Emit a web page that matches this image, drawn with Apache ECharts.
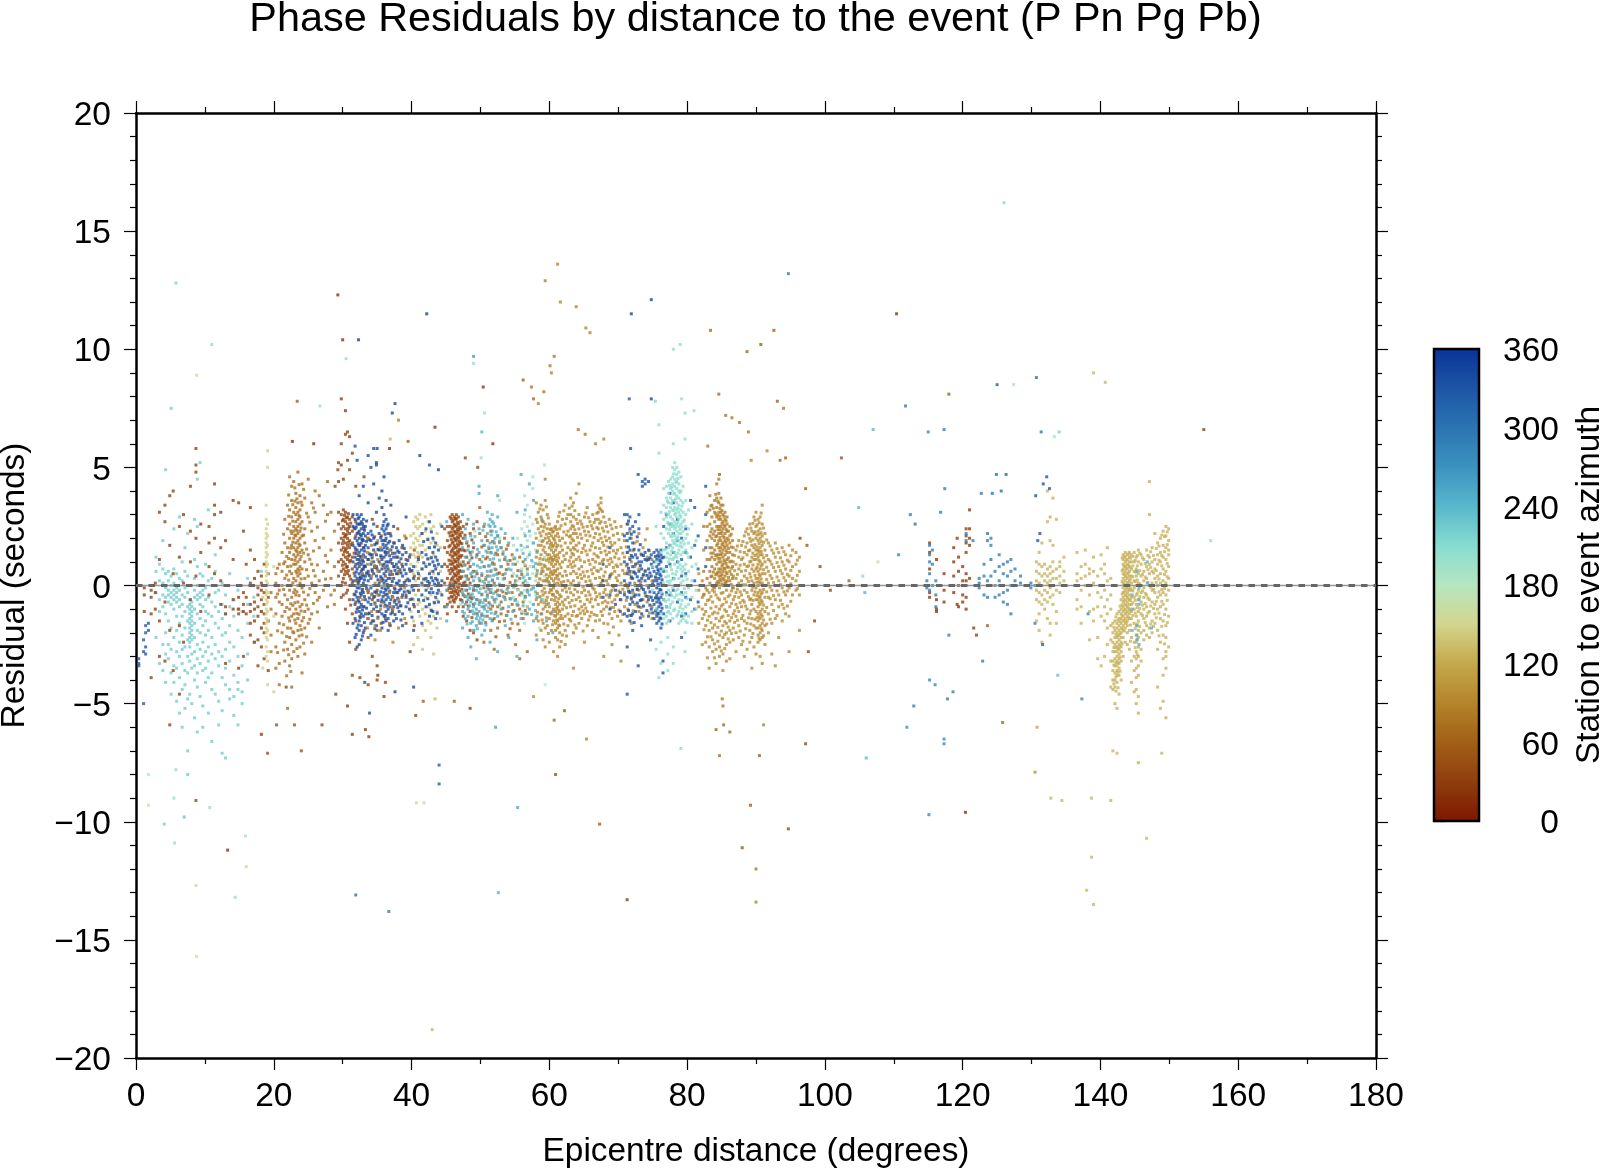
<!DOCTYPE html>
<html><head><meta charset="utf-8">
<style>html,body{margin:0;padding:0;background:#fff}#c{width:1600px;height:1168px}</style>
<script src="https://cdn.jsdelivr.net/npm/echarts@6/dist/echarts.min.js"></script>
</head><body><div id="c"></div>
<script>
const xTicks=[0,180,20], yTicks=[-20,20,5], azTicks=[0,360,60];
// every row: [distance, residual, residual, ...]
const outliers=[ // [dist,res,az]
[126,16.2,210],[5.8,12.8,215],[11,10.2,205],[8.8,8.9,170],[94.7,13.2,290],[61.2,13.6,90],[59.4,12.9,90],[61.6,12,90],[63.9,11.8,90],[65.3,10.9,90],[65.9,10.7,90],[29.3,12.3,20],[42.2,11.5,340],[71.9,11.5,340],[74.8,12.1,340],[110.4,11.5,25],[83.4,10.8,70],[92.6,10.8,60],[90.7,10.2,60],[88.7,9.9,70],[30,10.4,20],[32.3,10.4,340],[30.5,9.6,200],[49,9.7,260],[49,9.4,200],[60.7,9.7,80],[60.1,9.3,80],[78,10,200],[79,10.2,200],[139,9,130],[140.7,8.6,130],[125,8.5,320],[127.4,8.5,190],[130.7,8.8,300],[118,8.1,60],[155,6.6,30],[107,6.6,240],[102.4,5.4,50],[111.7,7.6,290],[115,6.5,280],[117.3,6.6,290],[131.4,6.5,290],[134,6.5,220],[133.3,6.3,190],[156,1.9,200],[8.8,-15.7,170],[43,-18.8,130],[31.9,-13.1,300],[36.7,-13.8,290],[52.6,-13,240],[71.3,-13.3,30],[90,-13.4,90],[14.4,-13.2,200],[16,-11.9,160],[15.9,-10.6,190],[13.3,-11.2,20],[8.7,-12.7,170],[5.6,-10.9,200],[4.1,-10.1,220],[7,-9.8,230],[1.8,-9.3,170],[1.8,-8,180],[8.7,-9.1,40],[10.7,-9.4,200],[5.8,-7.8,200],[7.5,-8,220],[5.5,-9,200],[44,-7.6,320],[44,-8.4,320],[40.7,-9.2,160],[41.8,-9.2,160],[55.4,-9.4,250],[60.9,-8,50],[67.3,-10.1,60],[88,-11.1,50],[90,-12,80],[89.2,-9.3,60],[94.7,-10.3,40],[90.5,-7.2,60],[84.7,-7.2,80],[97.2,-6.7,40],[106,-7.3,240],[111.9,-6,270],[117.3,-6.5,280],[117.3,-6.7,280],[115.1,-9.7,280],[120.4,-9.6,20],[130.5,-7.9,100],[132.8,-9,130],[134.4,-9.1,130],[138.7,-9,130],[141.5,-9.1,130],[138.7,-11.5,130],[138,-12.9,130],[139,-13.5,130],[146.7,-10.7,130],[148.9,-7.1,130],[141.8,-7,130],[142.4,-7.1,130],[130.8,-6,120],[125.8,-5.8,70],[137.3,-4.8,280],
[104.9,3.3,240],[105.5,0.4,210],[105.8,-0.3,240],[107.7,1,170],[110.7,1.3,280],[112.4,3,290],[113.1,2.6,300],[103.5,0.2,60],[100.8,-0.2,40],[99.3,0.8,40],[98.5,-1.5,40],[97.6,-2.8,40],[97.4,1.7,50],[96.4,2,40],[112.9,-5.1,290],[115.2,-4,280],[116,-4.2,280],[117.8,-4.8,290],[118.6,-4.5,290],[122.9,-3.2,290],[121.6,-1.8,30],[122,-2.1,30],[123.6,-1.7,60],[124.9,4.7,300],[126.3,4.7,310],[124.3,3.9,300],[125.6,4,300],[122.7,3.9,290],[117.4,4.1,290],[116.8,3.1,290],[131.7,4.3,330],[132.2,4.6,330],[132.6,4.1,330],[130.6,3.8,330],[131.2,2.2,330],[130.9,1.9,330],[131.6,-2.5,320],[133.8,-3.8,230],[138.2,-1.2,280],[41.2,5.5,340],[43.9,4.9,340],[42.6,5.1,330],[43.4,-4.8,130],[41.7,-4.9,60],[43.4,6.7,20],[47.8,5.4,40],[49.6,5,40],[50.4,8.4,20],[51.8,6,20],[56.2,8.7,60],[57.4,8.4,80],[57.7,7.9,70],[59.2,8.2,80],[60.3,9,90],[58.4,7.7,90],[65.2,6.4,80],[64.2,6.6,80],[66.7,6,90],[67.9,6.2,90],[71.6,7.9,320],[74.8,7.9,340],[71.8,5.8,330],[75.4,7.8,210],[79.2,7.9,200],[81,7.4,200],[83,5.9,80],[84.6,8.1,70],[85.6,7.2,80],[86.5,7.1,80],[87.6,6.9,80],[88.9,6.5,80],[91.6,5.7,90],[93.1,7.8,60],[94,7.5,80],[93.5,5.3,70],[94.3,5.4,60],[89.3,5.3,90],[84.7,4.7,70],[97.2,4.1,60],[50.2,6.5,240],[50.6,7.3,200],[50.1,5.4,200],[25.8,6,20],[22.7,6.1,20],[23.4,7.8,60],[29.8,7.9,30],[30.4,7.4,30],[26.7,7.6,200],[37.6,7.7,340],[37.2,7.3,340],[35,5.8,340],[34.9,5.2,340],[36.8,5.8,20],[39.5,6.1,60],[36.9,6.2,130],[29.3,4.9,40],[28.9,4.2,40],[24,-7,50],[19.1,-7.1,50],[20.4,-5.9,50],[18.2,-6.3,30],[23,-5.9,50],[27,-5.9,40],[29,-4.6,30],[21.8,-4.3,40],[30.7,-5.1,30],[31.4,-6.3,30],[33.3,-6.1,30],[33.8,-6.4,30],[36,-4.7,30],[33.9,-5.4,330],[33.2,-4.1,330],[35.1,-3.8,30],[37.6,-4.5,340],[40.3,-4.3,340],[40.6,-5.5,40],[48.5,-5.2,30],[46.2,-4.9,60],[52.2,-6,260],[60.7,-5.7,70],[65.4,-6.5,90],[71.3,-4.6,330],[85.1,-4.8,80],[85.2,-5.1,80],[84.2,-6.1,70],[86.2,-6.2,70],[85.3,-5.9,70],[91.1,-5.9,90],[79.1,-6.9,205],[62.2,-5.3,60],[57.7,-4.7,100],[59.4,-4.2,180]
];
const nearBlue=[[0.4,-3.1,-3.3,-3.4],[1.1,-2.3,-2.8,-5],[1.4,-1.7,-2,-2.6,-2.9],[1.8,-1.6,-1.9]];
const nearCyan=[[2.9,1.2,0.6,-0.3,-2.2],[3.4,0.9,0.2,-0.6,-1.1,-3.3],[3.9,1.9,0.7,0.1,-0.4,-0.9,-2.5,-3.6],[4.3,0.5,-0.1,-0.5,-1.2,-2,-2.9,-4.1,4.9],[4.7,0.6,0.2,-0.2,-0.4,-0.7,-1.5,-2.5,-3.1],[5.1,0.4,0,-0.3,-0.5,-0.8,-1.8,-2.7,-3.7,-4.6,7.5],[5.5,0.7,0.1,-0.2,-0.4,-0.6,-1,-2.2,-3.4,-4.1,2.4],[5.9,0.5,-0.1,-0.3,-0.5,-0.7,-1.3,-1.9,-2.8,-3.5,-4.9],[6.3,0.3,-0.2,-0.6,-0.9,-1.6,-2.4,-3,-3.9,-5.4,2.9],[6.7,1,0.2,-0.4,-0.8,-1.3,-2.1,-2.7,-3.3,-4.4,-6],[7.1,0.6,-0.1,-0.5,-1.1,-1.8,-2.6,-3.6,-4.2,-5.2,1.6],[7.5,0.4,-0.3,-0.9,-1.5,-2.3,-3,-3.7,-4.8,-7,2.2],[7.8,-0.6,-0.8,-1,-1.2,-1.4,-1.6,-1.8,-2,-2.2,-2.4,-2.6,-3.2,-4.6],[8.1,-0.7,-0.9,-1.1,-1.3,-1.5,-1.7,-1.9,-2.1,-2.3,-2.9,-3.5,-5],[8.5,1.1,0.3,-0.2,-0.5,-1,-1.6,-2.2,-2.8,-3.4,-4,-5.6,2.8],[8.9,0.8,0,-0.4,-0.6,-1.2,-1.9,-2.5,-3.1,-3.7,-4.3,-6.2,2.5,4.5],[9.3,0.5,-0.3,-0.5,-0.8,-1.4,-2,-2.7,-3.3,-4.7,5.2],[9.7,0.4,-0.2,-0.4,-0.9,-1.7,-2.4,-3,-3.6,-5.1,-6],[10.1,0.9,-0.1,-0.6,-1.1,-1.5,-2.1,-2.8,-3.5,-4.1],[10.5,0.2,-0.5,-1.2,-1.9,-2.6,-3.2,-3.9,-5.4,3.2],[11,0.3,-0.7,-1.3,-2.2,-2.9,-3.7,-4.4,-6.6],[11.5,0.6,-0.3,-0.9,-1.6,-2.5,-3.1,-4.6,1.3],[12,-0.2,-1.1,-1.8,-2.8,-3.4,-4.9,-5.9],[12.5,0.1,-0.8,-1.4,-2.1,-3,-3.9,-5.3,-7.1],[13,-0.4,-1.2,-2,-2.7,-3.5,-4.2,-7.3],[13.6,0.5,-0.9,-1.7,-2.4,-3.2,-4.4,-4.8],[14.2,-0.6,-1.3,-2.6,-3.8,-4.7,-5.5],[14.8,-0.2,-1,-1.9,-3,-4.1,-4.4,-5.9],[15.4,-1.1,-2.2,-3.4,-4.5,-5],[16.2,0.3,-0.8,-1.6,-2.9,-4],[17.1,-0.5,-1.3,-2.4],[18.2,0.6,-1.1,-1.8]];
const nearBrown=[[1.2,-0.4,-0.1,-1.1],[2.2,-0.5,-0.2,-1.2,-3.9],[2.8,0.1,-0.3,-1],[3.4,1.1,-1.5,3.1,-3],[4.2,3.4,2.7,-0.7,-3.2],[4.9,1.7,3.8,-1.9,-5.9],[5.4,4,0.5,-3.6],[6.3,2.5,1.2,-1.7,-4.6],[6.9,3,0.1,-2.4],[7.9,4.2,2.3,1,-0.6],[8.7,5.1,4.8,5.8,2,0.4],[9.4,2.6,1.4,-1.1],[10.6,2.5,1.8,0.8,-0.4],[11.4,4.3,3.4,3,2,0.5],[12.3,3.1,1.6,0.2,-0.8],[13,1.9,-0.9,-1.2,-3.3],[14.1,3.6,1.1,-0.6,-1],[14.9,3.5,-0.5,-1,-1.2,-3.5],[15.6,2.3,-0.3,-0.8,-1.1,-3],[16,0.9,-0.5,-1.2],[16.6,3.3,1.5,0.1,-0.8,-1.1,-1.6,-2.1],[17.2,1.1,0.3,-0.7,-1,-1.5,-2.4],[17.7,0.6,-0.1,-0.4,-0.9,-1.3,-2.3,-3.4],[18.2,0.4,0.1,-0.2,-0.6,-1.1,-1.8,-2.6],[18.6,0.9,-0.3,-0.8,-1.2,-1.6,-2,-3.1],[19.2,0.5,-0.5,-1.5,-3.6]];
const yellowStreak=[[18.9,3.4,2.8,2.4,2.2,2,1.8,1.6,1.4,1.2,1,0.8,0.6,0.4,0.2,0,-0.2,-0.4,-0.6,-0.8,-1,-1.2,-1.4,-1.6,-1.8,-2,-2.2,-2.6,-3],[19.1,5.7,5,2.6,2.1,1.7,1.3,0.9,0.5,0.1,-0.3,-0.7,-1.1,-1.5,-1.9,-2.3,-2.8,-3.2,-4.2],[18.4,-0.5,-3.5],[20,-1.3,-4.5,0.8]];
const brown22=[[19.6,-0.3,-1,-2.1,-2.8],[20.3,0.5,0.1,-0.5,-1.2,-2.6,-3.5],[20.8,0.9,-0.2,-0.7,-1.6,-3.3,-4.2],[21.2,1.4,0.6,0,-0.8,-1.3,-2],[21.6,2.8,1.8,1,0.3,-0.4,-1.1,-2.4,-3.2],[22,3.4,2.4,1.6,0.8,0,-0.6,-1.8,-2.7,-5.2],[22.3,4.6,3.2,2.6,2,1.4,0.6,-0.2,-1,-1.5,-2.2,-3.4],[22.6,4.2,3.6,2.9,2.2,1.7,1.1,0.5,-0.5,-1.3,-2.5,-3.1,-4.3],[22.9,4.4,3.1,2.5,2.3,2,1.6,1.3,0.9,0.3,-0.3,-1.2,-2,-2.8],[23.2,3.9,3.3,3,2.7,2.4,2.1,1.8,1.5,1.2,0.9,0.6,0.2,-0.4,-1,-1.6,-2.3],[23.5,4.8,3.5,3.1,2.8,2.5,2.2,1.9,1.6,1.3,1,0.7,0.4,0,-0.7,-1.4,-1.9,-3],[23.8,3.8,3.2,2.9,2.6,2.3,2,1.7,1.4,1.1,0.8,0.5,0.1,-0.9,-1.7,-2.6],[24.1,4.3,3.4,2.7,2.1,1.5,0.7,-0.1,-0.8,-1.5,-2.1,-3.7],[24.5,3.7,2.4,1.8,1,0.3,-0.6,-1.1,-1.8,-2.9],[25,4.5,2.9,1.3,0.4,-0.4,-1,-1.6],[25.5,3.5,2.3,0.9,0.1,-1.2,-2.4],[26,4,3.1,1.9,0.4,-0.3],[26.6,3.8,1.6,0.2,-0.5,-1.8],[27.2,3.4,2,0.6,-0.2],[27.8,4.4,3,1,0,-0.9],[28.3,3.1,1.5,0.3,-0.4],[28.8,2.3,0.8,-0.2,-0.8]];
const brown22b=[[20.55,0.73,-0.36,-1.92,-2.84],[21.43,2.17,0.92,-0.17,-1.66,-2.73],[21.87,1.23,0.44,-0.93,-2.16,-3.82],[22.16,3.83,2.93,1.14,0.23,-1.37,-2.93],[22.47,2.31,1.58,0.82,-0.77,-1.81,-3.64],[22.76,3.42,2.72,1.83,0.11,-0.84,-1.96],[23.06,4.13,3.57,2.14,1.07,-0.18,-0.73,-1.46],[23.36,3.67,2.33,1.44,0.53,-0.27,-1.18,-2.67],[23.67,4.27,2.96,1.76,0.64,-0.43,-1.22,-2.14],[23.97,3.53,2.43,1.23,0.28,-1.08,-1.87],[24.33,4.07,2.13,1.37,-0.28,-1.36,-2.44],[24.77,3.06,1.54,0.67,-0.83,-2.17],[25.23,2.68,1.11,-0.13,-1.43],[25.76,3.28,1.46,0.63,-0.76],[26.33,2.47,0.87,-0.62,-1.12],[27.51,2.72,1.27,0.27]];
const darkBrown30=[[29.4,3.1,2.6,1.8,1,0.4,5.2,4.4],[29.8,3,2.4,2,1.5,1.1,0.6,0,-0.5,5.1,6],[30.1,3.2,2.8,2.5,2.2,1.9,1.6,1.3,1,0.7,0.3,-0.4,4.5],[30.4,3.1,2.7,2.4,2.1,1.8,1.5,1.2,0.9,0.6,0.1,-1,6.4],[30.7,2.9,2.6,2.3,2,1.7,1.4,1.1,0.8,0.5,-0.2,-1.6,6.5,5.3],[31,2.8,2.5,2.2,1.9,1.6,1.3,1,0.4,-0.6,-2.4,6.3,4.9],[31.4,2.9,2.3,1.8,1.2,0.7,0.1,-1.2,-3.8,5.6],[31.9,2.7,2.1,1.5,0.9,0.2,-0.7,-1.5,-2.7,4.2],[32.5,2.6,1.7,1,0.3,-0.5,-1.3,-3.9],[33.1,2.4,1.6,0.8,0,-0.9,-1.9,4.6],[33.7,2,1.1,0.5,-0.3,-1.2,-2.2,-4.2],[34.3,2.8,1.3,0.6,-0.6,-1.5,-3],[35,2.5,1.8,0.7,-0.2,-1.1,-1.9,-3.4,-4],[35.6,2.1,1.2,0.2,-0.7,-1.6],[36.2,1.9,1.4,0.4,-0.4,-1.4,-4.1],[36.9,2.2,1,0.3,-0.9,-1.7],[37.5,1.8,0.8,-0.1,-0.7],[38,2.4,1.2,0.5,-0.3],[38.6,1.6,0.9,0,-0.5],[39.2,2,1.1,0.2,-0.4,-1.6],[39.8,1.3,0.6,-0.6,-2.8],[40.4,1.5,0.4,-0.9,-1.7],[41,1.2,0.3,-0.2]];
const darkBrown30b=[[29.96,2.74,1.77,0.86,0.14],[30.27,2.97,2.05,1.43,0.46],[30.53,2.86,2.16,1.57,0.77,-0.32],[30.83,3.04,2.42,1.83,1.24,0.63],[31.17,2.64,1.73,1.06,0.27,-0.83],[31.66,2.43,1.37,0.52,-0.37],[32.26,2.23,1.27,0.16,-0.94],[32.83,1.96,0.68,-0.24],[34.63,2.06,0.83,-0.46],[37.23,1.36,0.47,-1.14],[38.33,0.67,-0.86]];
const blue35=[[31.5,2.5,1.7,1,0.2,-0.6,-1.6,3],[31.8,2.8,2.4,2,1.6,1.2,0.8,0.4,0,-0.4,-0.8,-1.4,-2.2,5.9],[32.1,3,2.6,2.2,1.9,1.5,1.1,0.7,0.3,-0.1,-0.5,-1,-1.8,-2.6,5.3],[32.4,2.9,2.6,2.3,2,1.7,1.4,1.1,0.8,0.5,0.2,-0.1,-0.7,-1.1,-1.5,-1.9,-2.5,3.8],[32.7,3,2.7,2.4,2.1,1.8,1.5,1.2,0.9,0.6,0.3,0,-0.4,-0.8,-1.2,-1.7,-2.3],[33,2.8,2.5,2.2,1.9,1.6,1.3,1,0.7,0.4,0.1,-0.3,-0.9,-1.3,-2,4.2],[33.3,2.5,2.1,1.7,1.2,0.8,0.4,0,-0.6,-1.2,-1.8],[33.7,2.2,1.6,1.1,0.6,0.2,-0.2,-0.7,-1.4,3.5,5.5],[34.1,2.3,1.9,1.3,0.9,0.3,-0.1,-0.8,-1.6,-2.1,5],[34.5,2.6,2,1.5,1,0.5,0,-0.5,-1,-1.5,5.8,4.3],[34.9,1.8,1.3,0.8,0.4,-0.3,-0.9,-1.7,3.1,5.1],[35.3,2.2,1.5,1,0.6,0.1,-0.4,-1.1,3.7],[35.7,2.4,1.9,1.5,1.1,0.7,0.3,-0.1,-0.6,-1.2,-1.8,3.3,4],[36,2.7,2.3,1.9,1.6,1.2,0.9,0.5,0.1,-0.3,-0.7,-1.3,3,4.6],[36.3,2.8,2.4,2,1.7,1.3,1,0.6,0.2,-0.2,-0.6,-1.1,-1.5,3.6],[36.6,2.6,2.2,1.8,1.4,1,0.7,0.3,-0.1,-0.5,-1,-1.4,-1.9],[37,2.1,1.5,1.1,0.6,0,-0.6,-1.2,3.4],[37.4,1.8,1.2,0.8,0.3,-0.3,-0.9,-1.5,2.5],[37.8,1.6,1.2,0.9,0.5,0.1,-0.3,-0.8,-1.4],[38.2,1.9,1.4,1,0.6,0.2,-0.2,-0.7,-1.1],[38.7,1.7,1.3,0.8,0.4,0,-0.4,-1.2,-1.7],[39.2,1.4,0.9,0.5,0,-0.5,-0.9,2.9],[39.7,1.2,0.7,0.2,-0.3,-1],[40.3,0.8,0.3,-0.2,-0.8,-1.9],[41,1.1,0.5,0,-0.6,-1.1],[41.5,2.2,1.4,0.7,0.1,-0.4,-1.6],[42.1,2.4,1.3,0.8,0.3,-0.2,-0.9],[42.6,2.7,1.6,0.9,0.5,0.1,-0.3,-0.8,-1.3],[43.1,2,1.4,1,0.6,0.2,-0.3,-1.1],[43.5,1.8,1.2,0.7,0.3,0,-0.5,-1.4],[43.9,1.5,0.9,0.5,0.1,-0.2,-0.7],[44.4,2.5,0.8,0.2,-0.4]];
const blue35b=[[31.96,2.47,1.36,0.57,-0.26,-1.13,-2.07],[32.26,2.83,1.77,0.93,0.07,-0.63,-1.67],[32.56,2.16,1.24,0.36,-0.33,-0.92,-1.36],[32.87,2.61,1.93,1.07,0.46,-0.16,-1.04,-2.14],[33.16,2.34,1.46,0.83,0.24,-0.47,-1.57],[33.47,2.73,1.87,0.53,-0.13,-0.96],[33.87,1.94,1.34,0.42,-0.53,-1.17],[34.27,2.14,1.17,0.67,-0.36,-1.27],[34.67,1.73,0.76,-0.27,-0.74,-1.83],[35.13,1.53,0.24,-0.63,-1.34],[35.53,2.03,1.26,0.37,-0.27,-0.86],[35.86,2.54,1.74,0.84,0.23,-0.46,-1.56],[36.16,2.17,1.43,0.74,-0.14,-0.83,-1.27],[36.46,2.53,1.57,0.83,0.04,-0.37,-0.87],[36.83,1.87,1.26,0.46,-0.24,-0.76,-1.64],[37.2,1.64,0.93,0.17,-0.47,-1.03],[37.6,1.37,0.64,-0.16,-0.63,-1.23],[38,1.46,0.76,0.07,-0.54,-0.94],[38.46,1.13,0.53,-0.14,-0.86,-1.46],[38.94,1.57,0.66,0.13,-0.27],[39.46,1.06,0.27,-0.24,-0.73],[40.06,0.63,-0.06,-0.57,-1.34],[41.76,1.86,0.96,0.27,-0.63],[42.36,1.94,1.13,0.17,-0.56],[42.87,2.27,1.17,0.33,-0.14,-1.06],[43.33,1.63,0.84,0.06,-0.73],[43.73,1.07,0.23,-0.33,-1.17]];
const tan35=[[32.9,1.2,0.5,-0.6],[33.6,2,1.4,0.9,-0.2,-1.4,-1.8],[34.2,1.7,1,0.4,-0.4,-1.1],[34.7,1.4,0.8,0.1,-0.8,-1.7,-2.3],[35.1,1.9,1.1,0.6,-0.4,-1.4],[35.5,1.6,0.9,0.2,-1,-1.9],[36.1,0.8,0,-0.9],[36.8,1.5,0.6,-0.3,-1.6],[37.3,-0.5,-1,-2.4],[38.1,0.6,-0.6,-1.8,7],[39,2.1,-0.1,-1.4]];
const pale42=[[39.9,2.1,1.6,0.9,-0.2,-1.1],[40.3,2.7,2.2,1.8,1.3,0.5,-0.6,-1.5,-2.5],[40.6,2.9,2.5,2,1.6,1.2,0.8,0.2,-0.4],[40.9,2.8,2.4,1.9,1.4,1,0.6,-0.8,-2.2],[41.2,3,2.5,2.1,1.7,1.3,0.4,-0.7,-1.3],[41.6,2.6,2.2,1.7,1.2,0.7,0,-1,-1.7,-2.7],[42,2.9,2.3,1.5,0.9,0.2,-0.5,-1.2,-1.9],[42.4,2.7,2,1.6,1.1,-0.1,-0.9,-1.5],[42.8,3,2.4,1.8,1.2,0.6,-0.4,-1,-1.6,-2.2],[43.2,2.5,1.9,1.3,0.5,-0.7,-1.3,-2.9],[43.7,2.2,1.7,0.8,-0.6,-1.1,-1.8],[44.2,2.6,1.6,0.6,-0.3,-1.4]];
const brown46=[[44.8,2.4,1.6,0.9,0.1,-0.9],[45.2,2.5,1.9,1.4,0.8,0.3,-0.2,-0.8,-1.2],[45.6,2.9,2.5,2.1,1.7,1.3,0.9,0.5,0.1,-0.3,-0.7],[45.9,3,2.7,2.4,2.1,1.8,1.5,1.2,0.9,0.6,0.3,0,-0.3,-0.5,-0.9],[46.2,2.9,2.6,2.3,2,1.7,1.4,1.1,0.8,0.5,0.2,-0.1,-0.4,-0.7],[46.5,3,2.8,2.5,2.2,1.9,1.6,1.3,1,0.7,0.4,0.1,-0.2,-0.5,-1.1],[46.8,2.9,2.6,2.3,2,1.7,1.4,1.1,0.8,0.5,0.2,-0.1,-0.4,-0.9],[47.1,2.7,2.4,2.1,1.8,1.5,1.2,0.9,0.6,0.3,0,-0.6],[47.5,2.5,2,1.5,1,0.6,0.1,-0.4,-0.9,-1.3],[48,2.6,1.8,1.2,0.4,-0.2,-0.7,-1.5],[48.5,2.2,1.4,0.8,0.1,-0.5,-1.1,-1.9],[49,2.4,1.6,0.6,-0.2,-0.8,-2],[49.5,2.7,1.3,0.5,-0.6,-1.2,-2.3]];
const brown46b=[[45.43,2.23,1.64,1.07,0.64,-0.12,-0.54],[45.76,2.83,2.26,1.94,1.43,1.04,0.72,0.23,-0.14,-0.46],[46.06,2.76,2.47,2.14,1.84,1.56,1.26,0.96,0.67,0.36,0.07,-0.23,-0.63],[46.36,2.84,2.54,2.26,1.96,1.63,1.34,1.03,0.76,0.44,0.13,-0.27,-0.57],[46.66,2.67,2.37,2.06,1.76,1.46,1.17,0.86,0.57,0.27,-0.03,-0.33],[46.96,2.46,2.17,1.87,1.54,1.26,0.97,0.63,0.36,0.06,-0.24],[47.3,2.24,1.77,1.27,0.83,0.37,-0.16,-0.63],[47.76,2.13,1.47,0.87,0.14,-0.47],[48.24,1.67,0.96,0.27,-0.36,-0.87],[48.76,1.93,1.17,0.37,-0.56,-1.36]];
const brown52=[[49.9,2.2,1.1,0.2,-0.7,-1.6,3.3],[50.5,2.5,1.7,0.8,-0.1,-0.9,-2.4],[51,1.9,1.2,0.4,-0.4,-1.3],[51.5,2.3,1.4,0.6,-0.3,-1,-1.9],[52,1.8,0.9,0.1,-0.6,-1.4,-2.7],[52.5,2.1,1.3,0.5,-0.2,-0.9,-1.8],[53,1.6,0.8,0,-0.7,-1.2],[53.5,2,1.1,0.3,-0.5,-1.5],[54,1.7,0.9,-0.1,-1.1,-2.1],[54.6,1.3,0.4,-0.3,-0.8,-1.6],[55.1,0.9,0.2,-0.6,-1.3,-2.5],[55.7,1.2,0.3,-0.4,-1,-1.9,-3.1],[56.2,1,0.1,-0.7,-1.4],[56.8,0.7,-0.2,-0.9,-1.2,-2.8]];
const brown52b=[[50.2,1.63,0.43,-0.37,-1.26],[50.76,2.07,1.13,0.26,-0.63,-1.57],[51.24,1.56,0.83,-0.16,-0.73],[51.76,1.86,0.96,0.23,-0.87,-1.46],[52.24,1.37,0.67,-0.27,-1.13,-2.17],[52.76,1.83,0.53,-0.43,-1.53],[53.26,1.33,0.46,-0.27,-0.96],[53.76,1.54,0.67,-0.33,-1.27],[54.3,1.06,0.13,-0.56,-1.83],[54.86,1.13,-0.07,-1.06],[55.44,0.63,-0.17,-0.83,-1.63],[56,0.47,-0.34,-1.17],[56.5,0.84,-0.46,-1.06]];
const cyan50=[[45.1,-0.2,-0.9,-1.5,2.7],[47.4,-0.3,-0.7,-1.1,-1.8,1.6,0.6,3],[47.8,0.4,-0.2,-0.8,-1.4,2.4,1.2,2],[48.2,1.5,0.7,0,-0.6,-1,-1.3,-2.2,2.8],[48.6,2.1,1.3,0.5,-0.4,-0.7,-1.6,-2.6],[49,1.8,0.9,0.2,-0.1,-0.5,-0.9,-1.2,-1.9,2.6],[49.4,1.2,0.6,-0.2,-0.6,-1,-1.4,-1.7,-3.1],[49.8,2.4,1.4,0.3,-0.3,-0.8,-1.1,-1.5,3.9,4.2],[50.2,1.9,1,0.5,-0.4,-0.9,-1.2,-1.6,-2.1],[50.6,2.6,1.7,0.8,0.1,-0.6,-1,-1.3,-1.9],[51,3.1,2.2,1.4,0.6,-0.1,-0.5,-1.1],[51.4,2.8,2.5,1.8,1.1,0.4,-0.3,-0.8,-1.4,-2.4],[51.7,3,2.7,2.3,1.6,0.9,0.2,-0.5,-1.5],[52.1,2.5,2,1.3,0.7,0,-0.7,-1.2],[52.5,2.9,2.1,1.5,0.3,-0.4,-1.3,-2.8,3.8],[53,2.4,1.6,0.8,-0.2,-1],[53.6,1.2,0.5,-0.6,-1.7,2.2],[54.1,1.8,0.7,-0.3,-0.9,-2.2],[54.7,2,0.9,0,-1.1],[55.3,1.5,0.4,-0.8,3.1,-3],[55.9,1.7,0.6,-0.3,-1.4,4.7],[56.5,2.1,1.1,0.2,-0.5,-1.2,3.2],[57.1,2.3,1.3,0.3,-0.4,-1,4.3],[57.7,1.8,0.8,-0.1,-0.8,-1.5,3.6],[58.2,1.4,0.5,-0.5,-1.3,-2.3],[58.9,0.6,-0.6,-1.2,2.8],[59.6,0.2,-0.8,-1.5],[60.5,1.1,-0.4,-1.1,-2]];
const cyan50b=[[47.66,0.87,-0.43,-1.17],[48.06,1.86,0.26,-0.47,-1.63],[48.46,1.07,-0.13,-0.86],[48.83,1.43,0.56,-0.36,-1.07,-1.53],[49.2,2.07,0.37,-0.76,-1.16],[49.57,1.53,0.83,-0.04,-1.27,-1.83],[49.97,0.76,-0.14,-0.63,-1.37],[50.36,2.34,1.23,0.17,-0.73,-1.46],[50.8,1.46,0.34,-0.26,-0.83,-1.67],[51.2,2.56,1.63,0.83,0.14,-0.94],[51.56,2.14,1.37,0.63,-0.16,-1.17],[51.9,2.63,1.86,1.13,0.43,-0.33],[52.3,2.27,1.64,0.47,-0.57],[52.76,1.87,1.07,0.06,-0.83],[53.3,1.43,0.27,-0.46],[53.86,1.04,-0.17,-1.26],[54.43,0.66,-0.57,-1.43],[55,1.16,0.07,-0.63],[56.2,1.36,0.33,-0.86],[56.83,1.64,0.47,-0.26],[57.43,1.06,-0.16,-1.23],[58,0.93,-0.27,-1.06]];
const pale57=[[54.8,1.7,1.2,0.5,-0.1,-0.5],[55.4,2,1,0.2,-0.2,-0.7],[56,2.4,1.5,0.7,0,-0.4,-1.1],[56.4,3,2.7,2.2,1.6,0.9,0.4,-0.2,-0.6,-1.6,3.8],[56.8,3.4,2.5,1.9,1.2,0.6,0.1,-0.3,-0.9],[57.2,2.9,2.1,1.4,0.8,0.3,-0.2,-0.7],[57.6,2.6,1.8,1,0.5,-0.1,-0.8,4.1,4.6],[58,2.2,1.5,0.7,0.2,-0.4],[58.6,1.9,1,0.3,-0.5,-1.8],[59.3,1.2,0.4,-0.6,5.1],[49.2,2.3,-1.9],[52.8,3.6,2],[47.1,1,-0.8]];
const brown62=[[58.1,3.5,2.8,2,1.2,0.4,-0.6,-1.4,-2.1],[58.4,3.1,2.4,1.7,0.9,0.1,-0.8,-1.5],[58.8,3.4,2.9,2.5,2.1,1.7,1.3,0.9,0.5,0,-0.7,-1.2,-1.9],[59.1,3.2,2.7,2.3,1.9,1.5,1.1,0.6,0.2,-0.4,-1,-1.6,-2.3],[59.4,4.5,3.6,2.6,2,1.4,0.8,0.2,-0.3,-0.9,-1.8,-2.6],[59.7,3,2.4,1.8,1.3,0.7,0.3,-0.5,-1.1,-1.7],[60,2.6,2.2,1.9,1.6,1.3,1,0.7,0.4,0.1,-0.3,-0.9,-1.4,-2.4],[60.3,2.4,2.1,1.8,1.5,1.2,0.9,0.6,0.3,0,-0.2,-0.6,-1.2,-1.9],[60.6,2.3,2,1.7,1.4,1.1,0.8,0.5,0.2,-0.1,-0.4,-1,-1.5,-2.8],[60.9,2.5,2.1,1.8,1.5,1.2,0.9,0.6,0.3,0,-0.5,-0.8,-1.1,-1.3,-1.6,-1.9,-2.2],[61.2,2.7,2.2,1.7,1.3,1,0.7,0.4,0.1,-0.3,-0.7,-0.9,-1.2,-1.5,-1.8,-2.3,-3],[61.5,3.1,2.4,1.9,1.4,0.9,0.5,0,-0.4,-0.8,-1.1,-1.4,-1.7,-2,-2.6],[61.9,2.8,2,1.5,1,0.4,-0.2,-0.7,-1,-1.4,-2.1],[62.3,3.4,2.6,1.8,1.1,0.6,-0.1,-0.6,-1.3,-1.9,-2.5],[62.7,3,2.3,1.6,0.8,0.2,-0.5,-1.2,-1.7],[63.1,3.7,3,2.7,2.4,2.1,1.8,1.5,1.2,0.9,0.5,0.1,-0.3,-0.9,-1.5],[63.5,3.5,2.9,2.5,2.2,1.9,1.6,1.3,1,0.6,0.2,-0.4,-1.1,-2,-3.5],[63.9,3.9,2.8,2.2,1.7,1.1,0.5,0,-0.6,-1.3,-1.8],[64.3,3,2.4,1.8,1.2,0.7,0.1,-0.5,-1,-1.6,4.3],[64.7,2.6,2,1.4,0.8,0.3,-0.3,-0.9,-1.4],[65.1,2.9,2.3,1.7,1,0.4,-0.2,-0.8,-1.2,-2.4],[65.5,3.3,2.5,1.9,1.3,0.6,0,-0.6,-1.1,-1.7],[65.9,2.7,2.1,1.5,0.9,0.2,-0.4,-0.7,-1.3],[66.3,3,2.4,1.8,1.1,0.5,-0.1,-0.9,-1.9],[66.7,2.8,2.2,1.6,1,0.3,-0.3,-0.6,-1.5],[67.1,3.4,3.1,2.8,2.4,1.9,1.2,0.6,0,-0.8,-2.2],[67.5,3.7,3.5,3.2,2.7,2,1.4,0.7,0.1,-0.5,-1.1],[67.9,2.9,2.3,1.7,1.1,0.4,-0.3,-1,-1.6,-3],[68.3,2.5,1.9,1.3,0.8,0.2,-0.4,-0.9],[68.7,2.8,2,1.4,0.9,0.3,-0.5,-1.2,-2],[69.1,2.4,1.7,1,0.5,-0.2,-0.7,-1.4,-2.5],[69.5,2.7,1.8,1.2,0.6,0,-0.6,-1.1],[69.9,2.2,1.5,0.8,0.2,-0.4,-1.3],[70.4,2.5,1.6,0.9,0.1,-0.6,-1.5,-3.2],[70.9,1.9,1.2,0.5,-0.3,-0.9],[71.4,2.6,1.4,0.6,-0.1,-1],[71.9,2,1,0.3,-0.5,-1.6],[72.4,1.8,0.8,0.1,-0.8],[73,2.2,0.7,-0.2,-1.1],[73.6,1.6,0.4,-0.6,-1.3],[74.2,2.4,1.2,0,-0.7],[74.9,1.1,0.2,-0.9,-1.4],[75.5,0.3,-0.5,-1.2]];
const brown62b=[[58.27,2.67,1.46,0.63,-0.34,-1.13],[58.63,3.24,2.23,1.14,0.27,-0.47],[58.96,2.73,1.86,0.73,-0.24,-1.46],[59.26,2.47,1.63,0.86,-0.13,-0.73],[59.57,3.33,2.17,1.07,0.46,-0.64,-1.37],[59.86,2.86,2.03,1.13,0.17,-0.76,-2.03],[60.16,2.37,1.73,1.14,0.53,-0.17,-1.16],[60.46,2.26,1.64,1.03,0.47,-0.37,-1.66],[60.76,2.44,1.93,1.27,0.63,0.07,-0.63,-1.27],[61.06,2.37,1.63,1.06,0.44,-0.24,-0.97,-1.46],[61.36,2.93,2.06,1.17,0.26,-0.56,-1.04,-1.67],[61.7,2.53,1.67,0.76,0.13,-0.47,-1.27,-2.37],[62.1,3.16,2.27,1.26,0.17,-0.83,-1.63],[62.5,2.83,2.14,1.37,0.43,-0.27,-0.94,-2.14],[62.9,3.27,2.06,1.04,-0.13,-0.73,-1.43],[63.3,3.36,2.53,1.97,1.36,0.77,0.03,-0.63,-1.27],[63.7,3.17,2.36,1.53,0.83,-0.17,-0.86,-1.67],[64.1,2.63,2.04,1.46,0.34,-0.27,-1.27],[64.5,2.73,2.17,1.07,0.46,-0.67,-1.17],[64.9,2.47,1.57,0.57,-0.06,-1.07,-1.93],[65.3,3.07,2.13,1.46,0.17,-0.43,-0.96],[65.7,2.87,2.27,1.06,0.37,-0.27,-1.46],[66.1,2.53,1.67,0.66,0.06,-0.57,-1.14],[66.5,2.67,2.03,1.34,0.76,-0.16,-1.23],[66.9,3.06,2.46,1.26,0.63,-0.47,-1.27],[67.3,3.27,2.63,2.17,1.57,0.93,0.34,-0.36,-1.46],[67.7,3.13,2.43,1.83,1.03,0.23,-0.73,-1.27],[68.1,2.67,2.06,1.46,0.57,-0.17,-0.66],[68.5,2.27,1.63,1.07,0.06,-0.73,-1.63],[68.9,2.56,1.83,1.14,0.47,-0.27,-0.94],[69.3,2.13,1.47,0.76,-0.06,-0.93,-1.76],[69.7,2.46,1.36,0.87,0.33,-0.43],[70.1,1.94,1.13,0.43,-0.23,-1.04,-2.1],[70.66,2.17,1.37,0.64,-0.16,-1.23],[71.17,1.63,0.83,0.06,-0.63],[71.67,2.27,1.17,0.47,-0.27,-1.26],[72.17,1.47,0.57,-0.33,-1.07],[72.76,1.87,0.93,-0.14,-0.86],[73.3,1.34,0.17,-0.93],[73.93,1.93,0.63,-0.43],[74.53,1.47,0.37,-0.47,-1.16]];
const blue74=[[67.8,0.9,0.2,-0.5],[68.8,1.6,0.4,-0.4,-1],[69.6,-0.2,-0.8],[70.3,-0.3,-0.6,-1.1],[70.9,3,2.1,1,0.2,-0.4,-1.2],[71.3,3,2.6,2.2,1.9,1.4,0.9,0.5,0,-0.5,-1.3,-2.6],[71.7,2.9,2.4,2,1.5,1.1,0.6,0.1,-0.3,-0.8,-1.5],[72.1,2.5,1.8,1.2,0.8,0.3,-0.2,-0.7,-1.2,-1.9],[72.5,2.7,1.3,0.9,0.5,0,-0.4,-1.1],[73,3,2.4,1.5,1,0.6,0.2,-0.4,-0.9],[73.4,1.3,1,0.7,0.3,-0.1,-0.6,-1.2,-1.7],[73.5,4.4,4.2],[73.9,4.5,4.3,1.4,1.1,0.6,0.2,-0.3],[74.4,4.4,1.5,1.1,0.7,0.3,-0.1,-0.6,-1.3],[74.8,1.3,0.9,0.4,0,-0.5,-1],[75.2,1.4,1,0.6,0.2,-0.3,-0.8,-1.4],[75.6,1.5,1.1,0.8,0.5,0.2,-0.1,-0.4,-0.7,-1,-1.3,-1.6],[75.9,1.4,1.2,0.9,0.6,0.3,0,-0.3,-0.6,-0.9,-1.2,-1.5],[76.2,1.5,1.3,1,0.7,0.4,0.1,-0.2,-0.5,-0.8,-1.1,-1.4,-1.8],[76.6,2.5,1.2,0.6,0,-0.6,-1.2],[77,3,1.6,0.8,-0.3,-0.9],[77.5,3.9,2.6,1.7,0.9,-0.4,-1.5],[78,3.5,2.2,1.4,0.3,-0.2],[78.6,2.8,1.9,1,0,-0.7],[79.2,2,1.1,0.4,-0.3,-1.3,-2.2],[79.8,2.4,1.4,0.5,-0.5,-1.2],[80.5,3.6,1.2,-0.6],[81.1,3.3,1.7,0.2,-1],[81.6,2.1,0.7,-0.7],[82.7,4.2,3,1.6,0.8],[72.9,-3.4,4.7],[74.7,-2.3],[76.5,-3.2,-3.7]];
const blue74b=[[71.5,2.73,1.63,0.73,-0.24,-1.06],[71.9,2.17,1.27,0.36,-0.57,-1.27],[72.3,2.27,1.53,0.57,-0.47,-1.57],[72.76,2.06,1.17,0.37,-0.17,-0.74],[73.2,1.73,0.84,0.03,-0.63,-1.37],[73.66,1.27,0.46,-0.17,-0.87],[74.16,1.07,0.43,-0.46,-1.06],[74.6,1.17,0.53,-0.27,-0.83],[75,0.77,0.07,-0.63,-1.16],[75.4,1.23,0.36,-0.53,-1.07],[75.76,1.27,0.67,0.06,-0.53,-1.17],[76.05,1.06,0.47,-0.17,-0.73,-1.37],[76.36,1.17,0.24,-0.36,-0.96,-1.63]];
const pale78=[[75,0.8,-0.2],[75.5,2.5,1,-1,-2.7],[76.2,3.1,2.2,1.4,0.6,-0.3,-1.2,-2.4,-3.3],[76.6,4.1,3.4,2.8,2,1.5,0.7,0.1,-0.6,-1.4],[77,4.2,3.7,3.3,2.9,2.4,1.8,1.2,0.6,0,-0.4,-0.9,-1.3,-1.6],[77.3,4.4,3.9,3.5,3,2.6,2.2,1.6,1,0.4,-0.2,-0.6,-1.1,-1.5],[77.6,4.5,4.1,3.7,3.3,2.9,2.5,2.1,1.7,1.3,0.8,0.2,-0.3,-0.8,-1.2],[77.9,5,4.6,4.3,4,3.6,3.2,2.8,2.5,2.2,1.9,1.6,1.1,0.5,-0.1,-0.7,-1.4],[78.2,5.2,4.9,4.5,4.2,3.9,3.6,3.3,3,2.7,2.4,2.1,1.8,1.4,0.9,0.3,-0.5,-1],[78.5,5,4.7,4.4,4.1,3.8,3.5,3.2,2.9,2.6,2.3,2,1.7,1.2,0.6,0,-0.4,-1.3],[78.8,4.8,4.3,4,3.7,3.4,3.1,2.8,2.5,2.2,1.9,1.5,1,0.3,-0.6,-1.1,-1.6],[79.1,4.6,4,3.6,3.2,2.9,2.6,2.2,1.8,1.3,0.7,0.1,-0.8,-1.5],[79.4,4.2,3.5,3.1,2.7,2.3,1.9,1.4,0.8,0.2,-0.4,-1,-1.4],[79.8,3.6,3,2.5,2,1.5,0.9,0.4,-0.3,-0.9,-1.5],[80.2,3.2,2.4,1.8,1.2,0.6,-0.1,-0.8,-1.3],[80.7,2.6,1.6,0.8,0.2,-0.5,-1.1,-1.6],[81.3,1.9,0.9,-0.2,-1],[79.7,6.2,7.3,-2,-2.8],[77.2,-2.2,-2.9,-3.6],[78,-2.6,-3.3,6],[75.9,6.8,5.6,-3.9]];
const pale78b=[[76.9,3.06,1.53,0.36,-0.67],[77.16,3.57,2.67,1.37,0.17,-1.13],[77.46,4.23,3.13,2.37,1.13,0.07,-0.93],[77.76,4.17,3.47,2.63,2.06,1.46,0.67,-0.43],[78.06,4.73,3.87,3.17,2.56,1.77,1.17,0.27,-1.06],[78.36,4.37,3.67,3.06,2.47,1.93,1.27,0.47,-0.23],[78.66,4.53,3.27,2.67,2.06,1.36,0.76,-0.16,-1.23],[78.96,3.93,2.97,2.37,1.67,0.87,-0.36,-0.93],[79.26,3.36,2.47,1.63,0.57,-0.63,-1.17],[79.6,2.77,1.76,0.67,-0.13,-1.27],[80,2.17,1.36,0.26,-0.56,-1.57]];
const brown85=[[82.4,2.5,1.5,0.6,-0.4],[82.9,3.1,2.5,1.9,1.1,0.3,-0.2],[83.3,3.8,3.2,2.6,2.1,1.6,1.1,0.6,0.1],[83.6,3.4,2.9,2.4,2,1.6,1.2,0.8,0.4,0],[84,3.6,3.1,2.7,2.3,1.9,1.5,1.1,0.7,0.3,-0.1],[84.3,4.3,3.7,3.3,2.9,2.5,2.1,1.7,1.3,0.9,0.5,0.1],[84.6,4.5,3.9,3.5,3.1,2.8,2.5,2.2,1.9,1.6,1.3,1,0.7,0.4,0.1],[84.9,3.7,3.4,3.1,2.8,2.5,2.2,1.9,1.6,1.3,1,0.7,0.4,0.2],[85.2,3.4,3,2.7,2.4,2.1,1.8,1.5,1.2,0.9,0.6,0.3,0],[85.5,3.1,2.8,2.5,2.2,1.9,1.6,1.3,1,0.7,0.4,0.1],[85.8,2.9,2.6,2.3,2,1.7,1.4,1.1,0.8,0.5,0.2],[86.2,2.5,2.1,1.8,1.4,1,0.6,0.2],[86.6,2.4,1.9,1.3,0.8,0.3,-0.1]];
const brown85b=[[83.46,3.37,2.27,1.37,0.37],[83.8,3.27,2.17,1.37,0.57,-0.07],[84.16,3.86,3.03,2.07,1.27,0.46],[84.46,3.57,2.97,2.36,1.77,1.16,0.56,0.17],[84.76,3.26,2.93,2.36,2.03,1.46,1.14,0.57,0.26],[85.06,3.17,2.63,2.27,1.73,1.37,0.83,0.47,0.06],[85.36,2.93,2.56,2.03,1.67,1.07,0.73,0.24],[85.66,2.73,2.37,1.83,1.47,0.93,0.56,0.14],[86,2.3,1.93,1.57,1.17,0.77,0.34],[86.4,2.17,1.63,1.03,0.47,0.04]];
const brown91=[[81.7,-0.2,-0.9,-1.6,0.5],[82.2,0.2,-0.5,-1,-1.4,-2.5],[82.7,-0.1,-0.8,-1.1,-1.7,-2.4],[83.2,-0.3,-0.6,-1.3,-1.9,-2.6,-3.5],[83.7,-0.2,-0.7,-1.2,-1.8,-2.3,-2.8],[84.2,-0.4,-0.9,-1.4,-2,-2.7,-3.3],[84.7,-0.1,-0.6,-1,-1.5,-2.1,-2.6,-3],[85.2,-0.3,-0.8,-1.3,-1.7,-2.2,-2.9,-3.6],[85.7,-0.2,-0.7,-1.1,-1.6,-2,-2.5,-3.2],[86.2,-0.4,-0.9,-1.5,-1.9,-2.4,-3.1],[86.7,1.6,1,0.4,-0.1,-0.6,-1.2,-1.8,-2.3],[87.1,1.5,0.9,0.3,-0.3,-0.8,-1.3,-2,-2.8],[87.5,1.9,1.2,0.7,0.1,-0.5,-1.1,-1.7,-2.2],[87.9,1.7,1.1,0.6,0.2,-0.4,-0.9,-1.4,-2.5],[88.3,2.1,1.4,0.9,0.4,-0.2,-0.7,-1.5,-2.1,-3],[88.7,2.4,1.8,1.3,0.8,0.3,-0.3,-1,-1.6,-2.7],[89.1,2.6,2,1.5,1,0.5,0,-0.6,-1.2,-1.9,-2.4],[89.4,2.3,1.7,1.2,0.7,0.2,-0.2,-0.8,-1.4,-2.2,-3.5],[89.7,2.9,2.2,1.6,1.1,0.6,0.1,-0.4,-1,-1.7,-2.6],[90,3.1,2.5,2,1.5,1.1,0.7,0.3,-0.1,-0.6,-1.1,-1.8,-2.9],[90.3,2.8,2.3,1.9,1.5,1.2,0.9,0.6,0.3,0,-0.3,-0.6,-0.9,-1.2,-1.5,-1.8,-2.1,-2.4],[90.6,2.9,2.4,2,1.6,1.3,1,0.7,0.4,0.1,-0.2,-0.5,-0.8,-1.1,-1.4,-1.7,-2,-2.3,-3],[90.9,3.4,2.6,2.1,1.7,1.3,0.9,0.5,0.1,-0.3,-0.7,-1,-1.3,-1.6,-1.9,-2.2,-3.3],[91.3,2.2,1.5,1,0.5,0,-0.5,-1.1,-1.7,-2.5],[91.8,1.8,1.1,0.6,0.1,-0.5,-1.2,-2],[92.3,1.5,0.9,0.3,-0.2,-0.8,-1.6,-2.9],[92.8,1.8,1.2,0.6,0,-0.6,-1.4,-3.4],[93.3,1.4,0.8,0.2,-0.4,-0.9,-2.2],[93.8,1.6,1,0.5,-0.1,-0.8,-1.5],[94.3,1.3,0.7,0.2,-0.4,-1.2],[94.8,1.7,1,0.4,-0.1,-1.3,-2.8],[95.3,1.5,0.8,0.3,-0.4],[95.8,1.4,0.9,0.2,-0.2],[96.3,1.2,0.6,0,-0.4,-1.9]];
const brown91b=[[82.46,-0.37,-1.23,-1.87],[82.96,-0.63,-1.47,-2.17,-3.06],[83.46,-0.47,-0.96,-1.57,-2.17],[83.96,-0.27,-1.13,-1.67,-2.47,-3.06],[84.46,-0.53,-1.17,-1.77,-2.36],[84.96,-0.33,-0.87,-1.36,-1.93,-2.77],[85.46,-0.56,-1.03,-1.53,-2.07,-2.67],[85.96,-0.47,-1.27,-1.76,-2.26],[86.46,0.73,-0.23,-0.76,-1.36,-2.03],[86.9,1.27,0.63,-0.47,-1.07,-1.56],[87.3,1.67,0.47,-0.16,-0.94,-1.47],[87.7,1.43,0.86,-0.27,-0.73,-1.93],[88.1,1.86,1.17,0.03,-0.63,-1.27,-2.36],[88.5,2.27,1.63,0.63,0.03,-0.87,-1.83],[88.9,2.17,1.47,0.83,0.17,-0.47,-1.37],[89.25,2.43,1.87,1.03,0.36,-0.56,-1.07,-1.63],[89.55,2.63,1.93,1.37,0.87,-0.07,-0.63,-2.03],[89.85,2.76,2.27,1.73,1.27,0.43,-0.27,-1.43],[90.15,2.57,2.14,1.63,1.33,0.77,0.14,-0.43,-1.36],[90.45,2.66,2.17,1.77,1.43,1.06,0.47,0.16,-0.46,-0.73,-1.33,-2.23],[90.75,3.07,2.23,1.86,1.44,0.83,0.27,-0.36,-0.63,-1.23,-1.83],[91.1,2.43,1.83,1.17,0.67,-0.17,-0.83,-1.46,-2.13],[91.55,1.93,1.27,0.77,0.26,-0.27,-0.93,-1.63],[92.05,1.67,1.03,0.43,-0.07,-0.56,-1.43],[92.55,1.37,0.76,0.13,-0.43,-1.06],[93.05,1.56,0.97,0.36,-0.23,-1.27],[93.55,1.17,0.63,0.03,-0.63],[94.05,1.43,0.86,0.33,-0.27,-0.96],[94.55,1.07,0.47,-0.23,-0.87],[95.05,1.26,0.64,0.07,-0.67],[96,1.07,0.43,-0.13]];
const rust118=[[115.2,1.8,1.4,0.7,-0.3,-0.5],[116.2,1.1,-0.6,-1,-1.1],[117.3,0.5,-0.2,-0.7],[118.7,1.6,1,0.4,-0.3],[119.4,1.2,0.6,0,-0.9],[120,0.8,0.2,-0.4,-0.7],[120.5,2.4,2.1,1.8,1.4,0.5,0.2,-0.5,-1],[121,3.2,2.4,2,1.7,0.3],[119.2,-0.8,2]];
const blue122=[[114.8,0.2,-0.1],[115.2,1.7,1.3,1,0.5,-0.2],[115.6,1.5,0.9,0],[116.1,0.2,-0.4,-0.9],[120.5,2.2,1.9],[122.4,0.3,0.1,-0.1],[123.1,0.9,0.4,-0.4],[123.6,2.2,1.9,0.2,-0.5],[124.1,2,1.7,1.1,0.4],[124.7,0.6,0,-0.5],[125.3,1.3,0.8,0.2,-0.4],[125.9,0.9,0.5,0,-0.3,-0.7],[126.5,1,0.4,-0.2,-0.8],[127,1.1,0.6,0,-1.2],[127.6,0.7,0.2],[128.4,0.4,0.1],[129.9,0.1,-0.1],[130.5,0,-1.6],[118,-2.1],[121.5,1.9]];
const sand132=[[130.7,1,0.6,0.2,-0.2,-0.6,-1.5],[131.1,1.4,0.9,0.5,0.1,-0.3,-0.7,-1.2,-1.9],[131.5,1.8,0.8,0.4,0,-0.4,-0.8,-2.4],[131.9,0.9,0.5,0.2,-0.2,-0.6,-1],[132.3,0.7,0.4,0.1,-0.3,-0.7,-1.4,2.7,4],[132.7,0.8,0.5,0.2,-0.1,-0.5,-1.6,-2.1,2.9,1.9],[133.1,1,0.6,0.3,-0.4,-0.8,1.7,3.7],[133.6,0.7,0.3,-0.2,-1.1,-1.6,2.8],[134.1,0.8,0.4,0.1,-0.3,1],[134.7,0.6,0.2,0,1.2],[136.6,0.5,0.2,-0.6,-1,1.4],[137.2,0.8,0.3,-0.2,-0.9,-1.6],[137.8,0.9,0.4,0,1.5],[138.4,0.7,0.5,-0.4,-1.1,-2.3],[139,1.2,0.6,0.1,-1,-1.5],[139.6,0.4,-0.3,-0.9,-2.2,-3.1],[140.1,1.3,0.7,-0.5,-1.3,-3.4],[140.6,0.9,0.5,-0.2,-0.9,-1.5,-3],[141,1.6,0.2,-0.6,-1.2,-1.8,-2.5],[141.5,0.3,-0.4,-1,-1.7,-2.3,-3.2,-4.3]];
const sand143=[[141.8,-1.6,-2,-2.4,-2.8,-3.2,-3.6,-4,-4.4],[142.1,-1.5,-1.9,-2.2,-2.5,-2.8,-3.1,-3.4,-3.7,-4,-4.3,-5],[142.4,-1.2,-1.6,-1.8,-2,-2.2,-2.4,-2.6,-2.8,-3,-3.2,-3.4,-3.6,-3.8,-4.1,-5.2],[142.7,-1.1,-1.4,-1.7,-1.9,-2.1,-2.3,-2.5,-2.7,-2.9,-3.1,-3.3,-3.5,-3.8,-4.6],[143,-0.6,-1,-1.2,-1.4,-1.6,-1.8,-2,-2.2,-2.4,-2.6,-2.8,-3.2,-4],[143.3,1.3,1.1,0.9,0.7,0.5,0.3,0.1,-0.1,-0.3,-0.5,-0.7,-0.9,-1.1,-1.3,-1.5,-1.7,-1.9,-2.2,-3],[143.6,1.4,1.2,1,0.8,0.6,0.4,0.2,0,-0.2,-0.4,-0.6,-0.8,-1,-1.2,-1.4,-1.6,-1.8,-2.4],[143.9,1.3,1.1,0.9,0.7,0.5,0.3,0.1,-0.1,-0.3,-0.5,-0.7,-0.9,-1.1,-1.3,-1.5,-1.7,-2,-2.5],[144.2,1.4,1.2,1,0.8,0.6,0.4,0.2,0,-0.2,-0.4,-0.6,-0.8,-1,-1.2,-1.4,-1.9,-2.7],[144.5,1.3,1,0.7,0.4,0.1,-0.2,-0.5,-0.8,-1.1,-1.4,-2.2,-3.2,-4.1],[144.9,1.4,1,0.6,0.2,-0.1,-0.5,-1,-1.6,-2.4,-3,-3.6,-4.5],[145.2,1.2,0.7,0.4,0,-0.4,-0.8,-1.3,-1.7,-2.1,-2.4,-2.8,-3.1,-3.5,-3.9,-4.4,-5],[145.5,1.5,1,0.5,0.1,-0.2,-0.6,-1.1,-1.5,-1.9,-2.2,-2.6,-3,-3.4,-3.8,-4.7,-5.4,-7.5],[145.9,1.3,0.9,0.4,-0.3,-0.7,-1.2,-2,-2.7,-3.2],[146.3,1.1,0.6,0.2,-0.1,-0.5,-1,-1.4,-1.9,-2.3],[146.7,1.5,0.8,0.3,-0.4,-0.9,-1.3,-1.7,-2.1],[147.1,1.2,0.9,0.5,0,-0.6,-1.1,-1.8,-2.2,4.4,3],[147.5,1.6,1,0.6,0.1,-0.2,-0.7,-1.5,-2],[147.9,1.1,0.7,0.3,-0.3,-0.8,-1.2,-1.6,2.2],[148.3,1.8,1.3,0.9,0.4,0,-0.5,-1,-1.9,-2.7,-4.3],[148.7,2,1.4,1,0.5,0.1,-0.4,-0.9,-1.4,-2.4,-5.2],[149.1,2.3,1.7,1.2,0.7,0.2,-0.3,-0.8,-1.5,-2.1,-3.1,-3.8,-4.9],[149.5,2.5,2.1,1.6,1.1,0.6,0.1,-0.4,-1,-1.7,-2.2,-2.8,-3.5,-5.6,-3],[149.9,2.4,1.9,1.5,1.3,0.8,0.3,-0.2,-1.3,-2.6]];
const sand143b=[[141.95,-1.77,-2.63,-3.37,-4.16],[142.25,-1.33,-2.07,-2.63,-3.27,-3.87,-4.47],[142.55,-1.47,-2.13,-2.67,-3.26,-3.67,-4.33],[142.85,-0.87,-1.53,-2.04,-2.57,-3.03,-3.63],[143.15,1.17,0.63,0.17,-0.36,-0.83,-1.27,-1.83,-2.47],[143.45,1.24,0.83,0.47,0.06,-0.27,-0.64,-1.03,-1.46,-1.93],[143.75,1.07,0.73,0.36,-0.07,-0.43,-0.83,-1.17,-1.57],[144.05,1.33,0.87,0.53,0.13,-0.17,-0.57,-0.96,-1.36],[144.35,1.16,0.77,0.27,-0.13,-0.63,-1.07,-1.67,-2.36],[144.7,1.23,0.83,0.37,-0.23,-0.73,-1.27],[145.05,1.06,0.57,0.17,-0.63,-1.17,-1.83,-2.63],[145.35,1.27,0.83,0.23,-0.33,-0.93,-1.63,-2.27,-2.93],[145.7,1.37,0.63,0.07,-0.47,-0.97,-1.73],[146.1,1.17,0.47,-0.23,-0.83,-1.27],[146.5,0.93,0.36,-0.33,-0.76,-1.57],[146.9,1.27,0.67,0.13,-0.53,-1.17],[147.3,1.43,0.77,-0.07,-0.87,-1.63],[147.7,1.27,0.53,-0.17,-0.97,-1.73],[148.1,1.57,0.63,0.13,-0.67,-1.37],[148.5,1.67,1.07,0.27,-0.27,-1.17,-2.13],[148.9,2.13,1.27,0.83,-0.17,-0.67,-1.73],[149.3,2.07,1.43,0.47,-0.13,-1.23,-2.47],[149.7,2.27,1.73,0.93,0.37,-0.63,-1.57]];
const tealOver=[[144.6,-0.4,-1,-1.9],[145.3,0.6,-1.7,-2.1,-2.3],[145.6,-0.1,-0.6,-0.8,-2.5],[146.8,0.1,1],[147.4,-1.8]];
const clusterAz=[[nearBlue,325],[nearCyan,222],[nearBrown,33],[brown22,72],[brown22b,76],[yellowStreak,148],[darkBrown30,36],[darkBrown30b,34],[pale42,140],[blue35,336],[blue35b,340],[tan35,88],[brown46,38],[brown46b,36],[brown52,65],[brown52b,58],[pale57,190],[cyan50,250],[cyan50b,242],[brown62,92],[brown62b,96],[blue74,330],[blue74b,338],[pale78,205],[pale78b,208],[brown91,95],[brown91b,98],[brown85,82],[brown85b,84],[rust118,28],[blue122,290],[sand132,127],[sand143,125],[sand143b,128],[tealOver,245]];
const palette=['#7e1700','#8f3e0e','#a26017','#b4842a','#c4a84c','#d3d58e','#b6e6c1','#87dcd1','#58b7cc','#3c93bf','#2b74b2','#1d55a6','#0a3498'];
const points=[];
clusterAz.forEach(([rows,az])=>rows.forEach(r=>{for(let i=1;i<r.length;i++)points.push([r[0],r[i],az]);}));
outliers.forEach(p=>points.push(p));
const zeroLine=[[xTicks[0],0],[xTicks[1],0]];
const font='"Liberation Sans",Arial,Helvetica,sans-serif';
const thin={color:'#000',width:1.2};
const frameAxis=(extra)=>Object.assign({type:'value',splitLine:{show:false},
 axisLine:{show:true,onZero:false,lineStyle:{color:'#000',width:2.5}},
 axisTick:{show:true,length:12,lineStyle:thin}},extra);
const minus=v=>String(v).replace('-','\u2212');
const labelStyle={color:'#000',fontSize:33.5,fontFamily:font,formatter:minus};
const nudged={formatter:v=>'{t|'+minus(v)+'}',rich:{t:{color:'#000',fontSize:33.5,fontFamily:font,verticalAlign:'top',padding:[6,0,0,0]}}};
const nameStyle={fontSize:33.4,color:'#000',fontFamily:font};
const chart=echarts.init(document.getElementById('c'),null,{renderer:'canvas'});
chart.setOption({animation:false,backgroundColor:'#fff',
 title:{text:'Phase Residuals by distance to the event (P Pn Pg Pb)',left:750.5,textAlign:'center',top:-6,
  textStyle:{fontSize:41.4,fontWeight:'normal',color:'#000',fontFamily:font}},
 grid:[{left:136,top:113,width:1240,height:945,show:false,outerBoundsMode:'none',containLabel:false},
       {left:1434,top:349,width:45,height:472,show:true,backgroundColor:'transparent',borderColor:'#000',borderWidth:2.5,z:10,outerBoundsMode:'none',containLabel:false}],
 xAxis:[frameAxis({gridIndex:0,position:'bottom',min:xTicks[0],max:xTicks[1],interval:xTicks[2],minorTick:{show:true,splitNumber:2,length:6,lineStyle:thin},
   axisLabel:Object.assign({margin:22},labelStyle),name:'Epicentre distance (degrees)',nameLocation:'middle',nameGap:77,nameTextStyle:nameStyle}),
  frameAxis({gridIndex:0,position:'top',min:xTicks[0],max:xTicks[1],interval:xTicks[2],minorTick:{show:true,splitNumber:2,length:6,lineStyle:thin},axisLabel:{show:false}}),
  {type:'value',gridIndex:1,show:false,min:0,max:1}],
 yAxis:[frameAxis({gridIndex:0,position:'left',min:yTicks[0],max:yTicks[1],interval:yTicks[2],minorTick:{show:true,splitNumber:5,length:6,lineStyle:thin},
   axisLabel:Object.assign({margin:25},nudged),name:'Residual (seconds)',nameLocation:'middle',nameGap:105,nameTextStyle:nameStyle}),
  frameAxis({gridIndex:0,position:'right',min:yTicks[0],max:yTicks[1],interval:yTicks[2],minorTick:{show:true,splitNumber:5,length:6,lineStyle:thin},axisLabel:{show:false}}),
  {type:'value',gridIndex:1,position:'right',min:azTicks[0],max:azTicks[1],interval:azTicks[2],splitLine:{show:false},
   axisLine:{show:false},axisTick:{show:true,length:12,lineStyle:thin},minorTick:{show:false},
   axisLabel:Object.assign({margin:80,align:'right'},nudged),
   name:'Station to event azimuth',nameLocation:'middle',nameRotate:90,nameGap:94,nameTextStyle:nameStyle}],
 visualMap:{type:'continuous',seriesIndex:0,dimension:2,min:0,max:360,left:1434,top:349,itemWidth:45,itemHeight:472,padding:0,
  calculable:false,realtime:false,hoverLink:false,text:null,showLabel:false,inRange:{color:palette}},
 series:[
  {type:'scatter',xAxisIndex:0,yAxisIndex:0,data:points,symbol:'rect',symbolSize:3,large:false,progressive:0,silent:true,itemStyle:{borderWidth:0},z:3},
  {type:'line',xAxisIndex:0,yAxisIndex:0,data:zeroLine,symbol:'none',silent:true,lineStyle:{color:'#999',width:1.5},z:4},
  {type:'line',xAxisIndex:0,yAxisIndex:0,data:zeroLine,symbol:'none',silent:true,lineStyle:{color:'#666',width:3,type:[6.5,6]},z:5}
 ]});
</script></body></html>
